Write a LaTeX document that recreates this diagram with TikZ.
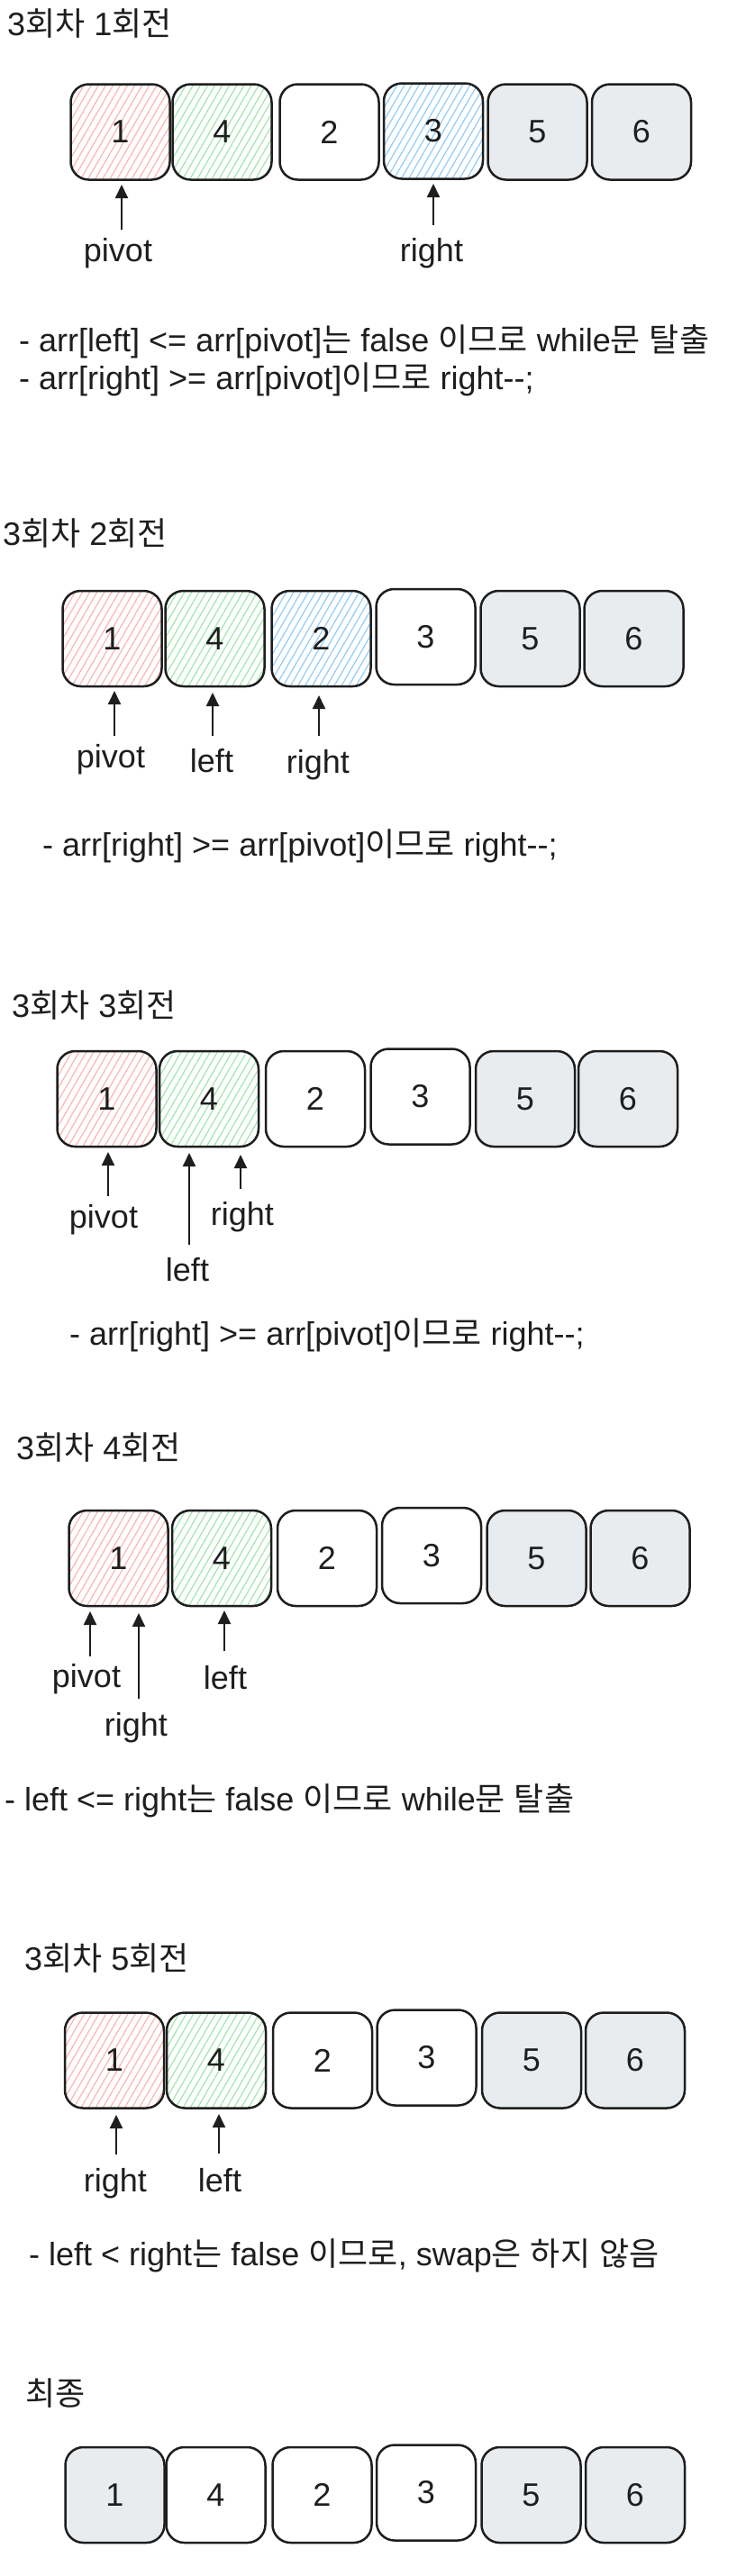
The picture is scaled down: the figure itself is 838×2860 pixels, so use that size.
\documentclass[tikz,border=0pt]{standalone}
\usepackage{fontspec}
\setmainfont{Liberation Sans}
\newfontfamily\kr{Noto Sans CJK KR}
\usetikzlibrary{arrows.meta,patterns.meta}
\definecolor{ink}{HTML}{1E1E1E}
\definecolor{hred}{HTML}{FFB3B3}
\definecolor{hgreen}{HTML}{9FE8AA}
\definecolor{hblue}{HTML}{8FCCFA}
\definecolor{gcell}{HTML}{E9ECEF}
\tikzset{
  cell/.style={draw=ink, line width=2.5pt, rounded corners=20pt, minimum width=110pt, minimum height=106pt, inner sep=0pt, text=ink, font=\fontsize{36}{43}\selectfont},
  hatchred/.style={pattern={Lines[angle=60,distance=7pt,line width=1.2pt]}, pattern color=hred},
  hatchgreen/.style={pattern={Lines[angle=60,distance=7pt,line width=1.2pt]}, pattern color=hgreen},
  hatchblue/.style={pattern={Lines[angle=60,distance=7pt,line width=1.2pt]}, pattern color=hblue},
  grayc/.style={fill=gcell},
  whitec/.style={fill=white},
  txt/.style={anchor=base west, inner sep=0pt, text=ink, font=\fontsize{36}{43}\selectfont},
  lbl/.style={anchor=base, inner sep=0pt, text=ink, font=\fontsize{36}{43}\selectfont},
  ptr/.style={draw=ink, line width=2pt, -{Triangle[width=14pt,length=15pt]}}
}
\begin{document}
\begin{tikzpicture}[x=1pt,y=-1pt]
\useasboundingbox[fill=white] (0,0) rectangle (838,2860);

% ---------- Section 1 ----------
\node[txt] (t1) at (8,39) {3{\kr 회차} 1{\kr 회전}};
\node[cell,hatchred]   (a1) at (133.5,146.5) {1};
\node[cell,hatchgreen] (a2) at (246.5,146.5) {4};
\node[cell,whitec]     (a3) at (365.5,146.5) {2};
\node[cell,hatchblue]  (a4) at (481,145.5) {3};
\node[cell,grayc]      (a5) at (596.5,146.5) {5};
\node[cell,grayc]      (a6) at (712,146.5) {6};
\coordinate (a1p0) at (135,255); \coordinate (a1p1) at (135,205);
\coordinate (a4p0) at (481,250); \coordinate (a4p1) at (481,204);
\draw[ptr] (a1p0) -- (a1p1);
\draw[ptr] (a4p0) -- (a4p1);
\node[lbl] (l1a) at (131,290) {pivot};
\node[lbl] (l1b) at (479,290) {right};
\node[txt] (d1a) at (21,390) {- arr[left] <= arr[pivot]{\kr 는} false {\kr 이므로} while{\kr 문} {\kr 탈출}};
\node[txt] (d1b) at (21,432) {- arr[right] >= arr[pivot]{\kr 이므로} right-{}-;};

% ---------- Section 2 ----------
\node[txt] (t2) at (3,605) {3{\kr 회차} 2{\kr 회전}};
\node[cell,hatchred]   (b1) at (124.5,709) {1};
\node[cell,hatchgreen] (b2) at (238.5,709) {4};
\node[cell,hatchblue]  (b3) at (356.5,709) {2};
\node[cell,whitec]     (b4) at (472.5,707) {3};
\node[cell,grayc]      (b5) at (588.5,709) {5};
\node[cell,grayc]      (b6) at (703.5,709) {6};
\coordinate (b1p0) at (127,817); \coordinate (b1p1) at (127,767);
\coordinate (b2p0) at (236,817); \coordinate (b2p1) at (236,769);
\coordinate (b3p0) at (354,817); \coordinate (b3p1) at (354,772);
\draw[ptr] (b1p0) -- (b1p1);
\draw[ptr] (b2p0) -- (b2p1);
\draw[ptr] (b3p0) -- (b3p1);
\node[lbl] (l2a) at (123,852) {pivot};
\node[lbl] (l2b) at (235,857) {left};
\node[lbl] (l2c) at (353,858) {right};
\node[txt] (d2) at (47,950) {- arr[right] >= arr[pivot]{\kr 이므로} right-{}-;};

% ---------- Section 3 ----------
\node[txt] (t3) at (13,1129) {3{\kr 회차} 3{\kr 회전}};
\node[cell,hatchred]   (c1) at (118.5,1220) {1};
\node[cell,hatchgreen] (c2) at (232,1220) {4};
\node[cell,whitec]     (c3) at (350,1220) {2};
\node[cell,whitec]     (c4) at (466.5,1217.5) {3};
\node[cell,grayc]      (c5) at (583,1220) {5};
\node[cell,grayc]      (c6) at (697,1220) {6};
\coordinate (c1p0) at (120,1328); \coordinate (c1p1) at (120,1279);
\coordinate (c2p0) at (210,1382); \coordinate (c2p1) at (210,1280);
\coordinate (c3p0) at (267,1320); \coordinate (c3p1) at (267,1282);
\draw[ptr] (c1p0) -- (c1p1);
\draw[ptr] (c2p0) -- (c2p1);
\draw[ptr] (c3p0) -- (c3p1);
\node[lbl] (l3a) at (115,1363) {pivot};
\node[lbl] (l3b) at (269,1360) {right};
\node[lbl] (l3c) at (208,1422) {left};
\node[txt] (d3) at (77,1493) {- arr[right] >= arr[pivot]{\kr 이므로} right-{}-;};

% ---------- Section 4 ----------
\node[txt] (t4) at (18,1620) {3{\kr 회차} 4{\kr 회전}};
\node[cell,hatchred]   (e1) at (131.5,1730) {1};
\node[cell,hatchgreen] (e2) at (246,1730) {4};
\node[cell,whitec]     (e3) at (363,1730) {2};
\node[cell,whitec]     (e4) at (479,1727) {3};
\node[cell,grayc]      (e5) at (595.5,1730) {5};
\node[cell,grayc]      (e6) at (710.5,1730) {6};
\coordinate (e1p0) at (100,1839); \coordinate (e1p1) at (100,1789);
\coordinate (e2p0) at (154,1886); \coordinate (e2p1) at (154,1791);
\coordinate (e3p0) at (249,1833); \coordinate (e3p1) at (249,1788);
\draw[ptr] (e1p0) -- (e1p1);
\draw[ptr] (e2p0) -- (e2p1);
\draw[ptr] (e3p0) -- (e3p1);
\node[lbl] (l4a) at (96,1873) {pivot};
\node[lbl] (l4b) at (151,1927) {right};
\node[lbl] (l4c) at (250,1875) {left};
\node[txt] (d4) at (5,2010) {- left <= right{\kr 는} false {\kr 이므로} while{\kr 문} {\kr 탈출}};

% ---------- Section 5 ----------
\node[txt] (t5) at (27,2187) {3{\kr 회차} 5{\kr 회전}};
\node[cell,hatchred]   (f1) at (127,2287.5) {1};
\node[cell,hatchgreen] (f2) at (240,2287.5) {4};
\node[cell,whitec]     (f3) at (358,2287.5) {2};
\node[cell,whitec]     (f4) at (473.5,2284.5) {3};
\node[cell,grayc]      (f5) at (590,2287.5) {5};
\node[cell,grayc]      (f6) at (705,2287.5) {6};
\coordinate (f1p0) at (129,2392); \coordinate (f1p1) at (129,2348);
\coordinate (f2p0) at (243,2391); \coordinate (f2p1) at (243,2347);
\draw[ptr] (f1p0) -- (f1p1);
\draw[ptr] (f2p0) -- (f2p1);
\node[lbl] (l5a) at (128,2433) {right};
\node[lbl] (l5b) at (244,2433) {left};
\node[txt] (d5) at (32,2515) {- left < right{\kr 는} false {\kr 이므로}, swap{\kr 은} {\kr 하지} {\kr 않음}};

% ---------- Section 6 ----------
\node[txt] (t6) at (28,2670) {{\kr 최종}};
\node[cell,grayc]  (g1) at (127.5,2770) {1};
\node[cell,whitec] (g2) at (239.5,2770) {4};
\node[cell,whitec] (g3) at (357.5,2770) {2};
\node[cell,whitec] (g4) at (473,2767.5) {3};
\node[cell,grayc]  (g5) at (589.5,2770) {5};
\node[cell,grayc]  (g6) at (705,2770) {6};
\end{tikzpicture}
\end{document}
